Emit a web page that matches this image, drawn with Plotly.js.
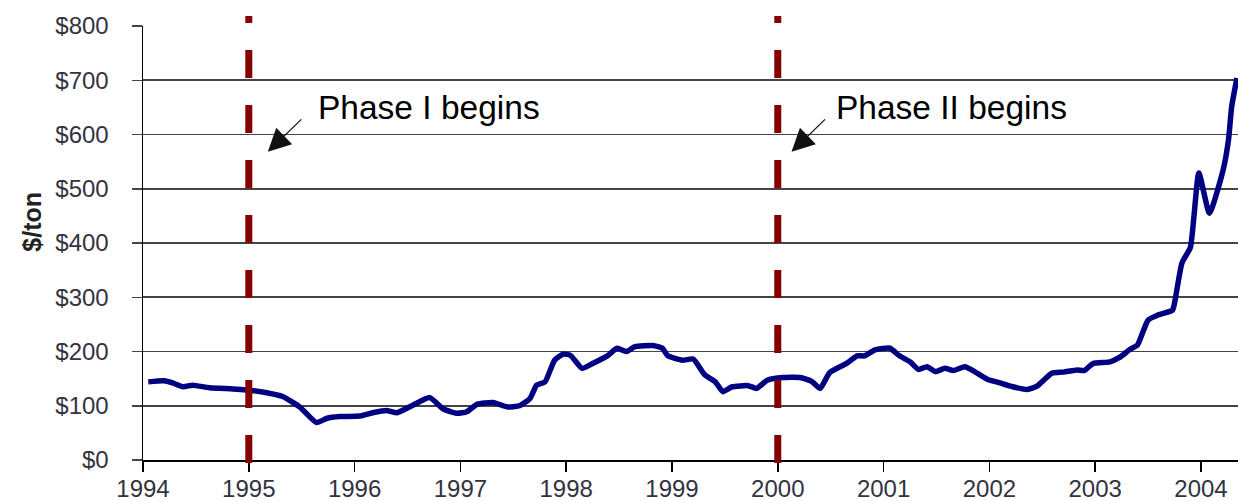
<!DOCTYPE html>
<html>
<head>
<meta charset="utf-8">
<script src="https://cdn.plot.ly/plotly-3.0.1.min.js"></script>
<style>html,body{margin:0;padding:0;background:#fff;}#chart{width:1238px;height:501px;}</style>
</head>
<body>
<div id="chart"></div>
<script>
// Price of SO2 allowances ($/ton), decimal year vs value
const years = [1994.05,1994.20,1994.28,1994.38,1994.47,1994.63,1994.85,1994.98,1995.17,1995.32,1995.48,1995.64,1995.74,1995.86,1996.05,1996.17,1996.31,1996.40,1996.55,1996.71,1996.84,1996.97,1997.06,1997.16,1997.31,1997.44,1997.56,1997.66,1997.72,1997.80,1997.89,1997.97,1998.04,1998.15,1998.25,1998.39,1998.48,1998.57,1998.65,1998.82,1998.91,1998.96,1999.10,1999.20,1999.31,1999.41,1999.48,1999.57,1999.72,1999.80,1999.90,2000.05,2000.21,2000.32,2000.40,2000.49,2000.65,2000.75,2000.82,2000.92,2001.06,2001.15,2001.25,2001.33,2001.41,2001.49,2001.58,2001.66,2001.77,2001.86,2001.98,2002.10,2002.22,2002.36,2002.45,2002.59,2002.70,2002.83,2002.90,2002.98,2003.14,2003.23,2003.33,2003.40,2003.50,2003.59,2003.73,2003.75,2003.82,2003.90,2003.98,2004.08,2004.21,2004.26,2004.29,2004.34];
const prices = [144,146,142,135,138,133,131,129,124,117,98,69,77,80,81,87,91,87,101,115,94,86,89,103,106,98,100,114,138,144,184,195,193,169,178,192,206,200,209,211,206,192,184,186,157,144,126,135,137,132,147,152,152,145,132,161,178,192,192,203,206,192,181,167,172,163,169,165,172,163,149,142,135,130,136,160,162,166,165,178,181,189,204,212,258,267,276,289,363,392,529,455,535,590,651,704];
const tickYears = [1994,1995,1996,1997,1998,1999,2000,2001,2002,2003,2004];
const phaseYears = [1995, 2000];
const phaseLabels = ["Phase I begins", "Phase II begins"];
const phaseArrowTipX = [1995.18, 2000.13];
const phaseLabelX = [1995.635, 2000.53];

const font = "Liberation Sans, Arial, sans-serif";

const shapes = phaseYears.map(yr => ({
  type: 'line', xref: 'x', yref: 'paper',
  x0: yr, x1: yr, y0: -0.007, y1: 1.023,
  line: {color: '#850000', width: 7, dash: '28px,27px'},
  layer: 'above'
}));

const annotations = [];
phaseYears.forEach((yr, i) => {
  annotations.push({
    x: phaseArrowTipX[i], y: 568, xref: 'x', yref: 'y',
    text: ' ', font: {size: 1},
    showarrow: true, ax: 35, ay: -34,
    arrowhead: 2, arrowsize: 3.8, arrowwidth: 1.2, arrowcolor: '#111',
    standoff: 0, startstandoff: 0
  });
  annotations.push({
    x: phaseLabelX[i], y: 649, xref: 'x', yref: 'y',
    text: phaseLabels[i], showarrow: false,
    xanchor: 'left', yanchor: 'middle',
    font: {family: font, size: 33.5, color: '#000'}
  });
});
annotations.push({
  x: -0.101, y: 0.55, xref: 'paper', yref: 'paper',
  text: '<b>$/ton</b>', textangle: -90, showarrow: false,
  xanchor: 'center', yanchor: 'middle',
  font: {family: font, size: 25, color: '#222'}
});

const trace = {
  x: years, y: prices, type: 'scatter', mode: 'lines',
  line: {color: '#000080', width: 5.5, shape: 'spline', smoothing: 0.5},
  hoverinfo: 'skip'
};

const layout = {
  width: 1238, height: 501,
  margin: {l: 143, r: 0, t: 26, b: 41, pad: 0},
  paper_bgcolor: '#fff', plot_bgcolor: '#fff',
  showlegend: false,
  font: {family: font, size: 24, color: '#333'},
  xaxis: {
    range: [1994, 2004.35], tickmode: 'array', tickvals: tickYears, ticktext: tickYears.map(String),
    ticks: 'outside', ticklen: 10, tickwidth: 1.5, tickcolor: '#000',
    showline: true, linecolor: '#000', linewidth: 1.5,
    showgrid: false, zeroline: false,
    ticklabelstandoff: -3,
    tickfont: {family: font, size: 24, color: '#333340'}
  },
  yaxis: {
    range: [0, 800], dtick: 100, tick0: 0, tickprefix: '$',
    ticks: 'outside', ticklen: 10, tickwidth: 1.5, tickcolor: '#444',
    showline: true, linecolor: '#000', linewidth: 1.5,
    showgrid: true, gridcolor: '#444', gridwidth: 1.8, zeroline: false,
    ticklabelstandoff: 18,
    tickfont: {family: font, size: 24, color: '#333340'}
  },
  shapes: shapes,
  annotations: annotations
};

Plotly.newPlot('chart', [trace], layout, {displayModeBar: false, staticPlot: true});
</script>
</body>
</html>
